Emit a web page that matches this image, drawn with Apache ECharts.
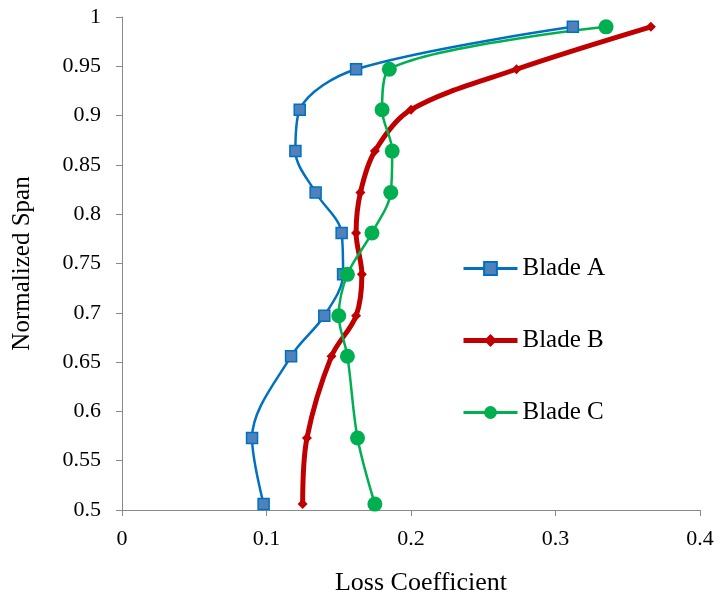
<!DOCTYPE html>
<html>
<head>
<meta charset="utf-8">
<script src="https://cdn.jsdelivr.net/npm/echarts@6/dist/echarts.min.js"></script>
<style>html,body{margin:0;padding:0;background:#fff;}#c{width:718px;height:596px;}</style>
</head>
<body>
<div id="c"></div>
<script>
var spans = [0.506, 0.573, 0.656, 0.697, 0.739, 0.781, 0.822, 0.864, 0.906, 0.947, 0.990];
var bladeA = [0.098, 0.090, 0.117, 0.140, 0.153, 0.152, 0.134, 0.120, 0.123, 0.162, 0.312];
var bladeB = [0.125, 0.128, 0.145, 0.162, 0.166, 0.162, 0.165, 0.175, 0.200, 0.273, 0.366];
var bladeC = [0.175, 0.163, 0.156, 0.150, 0.156, 0.173, 0.186, 0.187, 0.180, 0.185, 0.335];
var xTicks = [0, 0.1, 0.2, 0.3, 0.4];
var yTicks = [0.5, 0.55, 0.6, 0.65, 0.7, 0.75, 0.8, 0.85, 0.9, 0.95, 1];

function pairs(xs) { return xs.map(function (x, i) { return [x, spans[i]]; }); }

var font = '"Liberation Serif", "Times New Roman", serif';
var chart = echarts.init(document.getElementById('c'));
chart.setOption({
  animation: false,
  backgroundColor: '#fff',
  grid: { left: 122, right: 18, top: 17, bottom: 86, containLabel: false, outerBoundsMode: 'none' },
  xAxis: {
    type: 'value', min: 0, max: 0.4, interval: 0.1,
    name: 'Loss Coefficient', nameLocation: 'middle', nameGap: 60,
    nameTextStyle: { fontFamily: font, fontSize: 26, color: '#000', padding: [0, 0, 0, 20] },
    axisLine: { show: true, lineStyle: { color: '#898989', width: 1 } },
    axisTick: { show: true, inside: false, length: 6, lineStyle: { color: '#898989' } },
    axisLabel: { fontFamily: font, fontSize: 22, color: '#000', margin: 18,
      formatter: function (v) { return String(+v.toFixed(2)); } },
    splitLine: { show: false }
  },
  yAxis: {
    type: 'value', min: 0.5, max: 1, interval: 0.05,
    name: 'Normalized Span', nameLocation: 'middle', nameGap: 87, nameRotate: 90,
    nameTextStyle: { fontFamily: font, fontSize: 25, color: '#000' },
    axisLine: { show: true, lineStyle: { color: '#898989', width: 1 } },
    axisTick: { show: true, inside: false, length: 6, lineStyle: { color: '#898989' } },
    axisLabel: { fontFamily: font, fontSize: 22, color: '#000', margin: 21,
      formatter: function (v) { return String(+v.toFixed(2)); } },
    splitLine: { show: false }
  },
  legend: {
    orient: 'vertical', left: 456, top: 251, itemGap: 47,
    itemWidth: 54, itemHeight: 16,
    textStyle: { fontFamily: font, fontSize: 25, color: '#000' },
    data: [
      { name: 'Blade A', lineStyle: { width: 3 } },
      { name: 'Blade B', lineStyle: { width: 5 } },
      { name: 'Blade C', lineStyle: { width: 3 } }
    ]
  },
  series: [
    { name: 'Blade A', type: 'line', data: pairs(bladeA), smooth: 0.33,
      symbol: 'rect', symbolSize: 11,
      lineStyle: { color: '#0070C0', width: 2.5 },
      itemStyle: { color: '#4F81BD', borderColor: '#0070C0', borderWidth: 1.5 } },
    { name: 'Blade B', type: 'line', data: pairs(bladeB), smooth: 0.33,
      symbol: 'diamond', symbolSize: 10,
      lineStyle: { color: '#C00000', width: 5 },
      itemStyle: { color: '#C00000', borderColor: '#C00000', borderWidth: 0 } },
    { name: 'Blade C', type: 'line', data: pairs(bladeC), smooth: 0.33,
      symbol: 'circle', symbolSize: 15,
      lineStyle: { color: '#00B050', width: 2.5 },
      itemStyle: { color: '#00B050', borderColor: '#00B050', borderWidth: 0 } }
  ]
});
</script>
</body>
</html>
